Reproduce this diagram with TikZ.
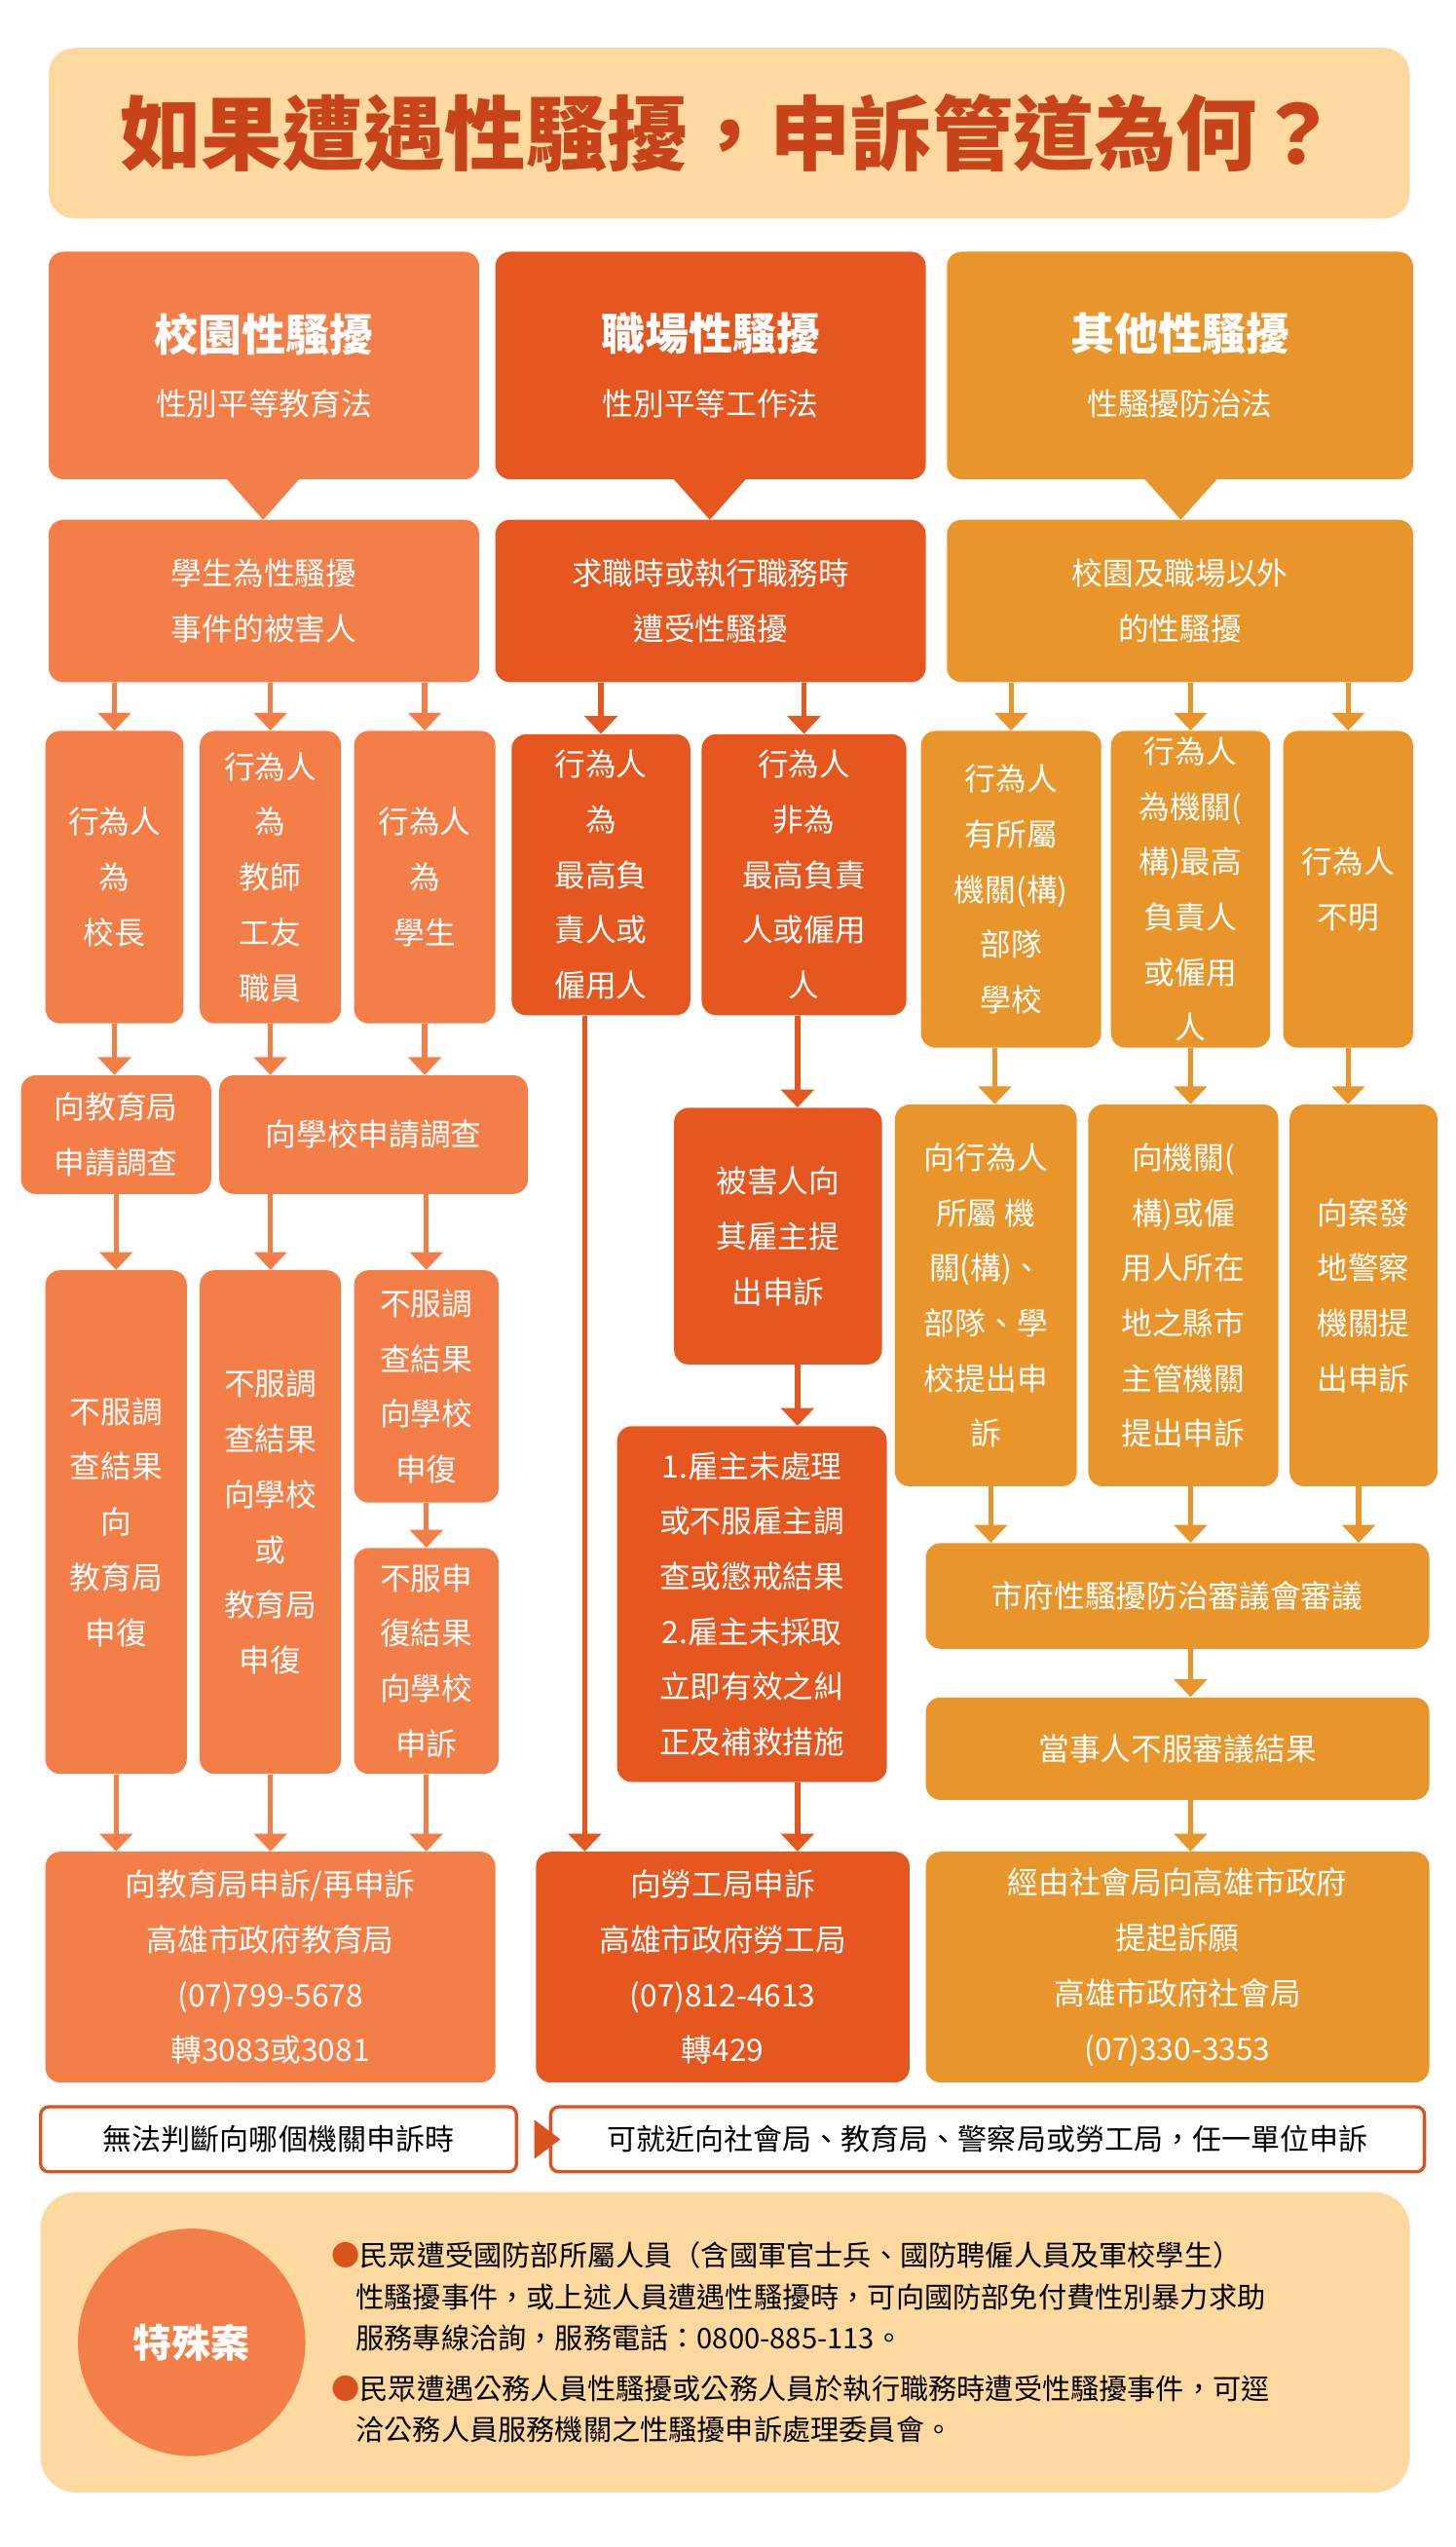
\documentclass[tikz,border=0pt]{standalone}
\usepackage{fontspec}
\setmainfont{Noto Sans CJK TC}
\usetikzlibrary{arrows.meta}
\definecolor{ca}{HTML}{F47E48}
\definecolor{cb}{HTML}{E5571F}
\definecolor{cc}{HTML}{E8962C}
\definecolor{peach}{HTML}{FDD9A0}
\definecolor{ttl}{HTML}{C9431A}
\definecolor{dk}{HTML}{D9531E}
\newcommand{\bx}[7]{\node[bx,fill=#6,minimum width={(#4-#2)*1pt},minimum height={(#5-#3)*1pt}] (#1) at ({(#2+#4)/2},{(#3+#5)/2}) {#7};}
\tikzset{bx/.style={rounded corners=9pt,inner sep=0pt,align=center,text=white,font=\fontsize{19}{34}\selectfont},
arr/.style={line width=3.2pt,-{Triangle[length=11pt,width=20pt]}}}
\begin{document}
\begin{tikzpicture}[x=1pt,y=-1pt]
\useasboundingbox (0,0) rectangle (896,1568);
\fill[white] (0,0) rectangle (896,1568);
% title
\node[bx,fill=peach,minimum width=838pt,minimum height=105pt,rounded corners=16pt,text=ttl,font=\fontsize{50}{54}\selectfont\bfseries] (title) at (449,82) {如果遭遇性騷擾，申訴管道為何？};
% headers
\fill[ca] (138,293)--(186,293)--(162,320)--cycle;
\fill[cb] (413,293)--(461,293)--(437,320)--cycle;
\fill[cc] (703,293)--(751,293)--(727,320)--cycle;
\bx{h1}{30}{155}{295}{295}{ca}{{\fontsize{27}{30}\selectfont\bfseries 校園性騷擾}\\[6pt]性別平等教育法}
\bx{h2}{305}{155}{570}{295}{cb}{{\fontsize{27}{30}\selectfont\bfseries 職場性騷擾}\\[6pt]性別平等工作法}
\bx{h3}{583}{155}{870}{295}{cc}{{\fontsize{27}{30}\selectfont\bfseries 其他性騷擾}\\[6pt]性騷擾防治法}
\bx{r1}{30}{320}{295}{420}{ca}{學生為性騷擾\\事件的被害人}
\bx{r2}{305}{320}{570}{420}{cb}{求職時或執行職務時\\遭受性騷擾}
\bx{r3}{583}{320}{870}{420}{cc}{校園及職場以外\\的性騷擾}
% row3
\bx{a1}{28}{450}{113}{630}{ca}{行為人\\為\\校長}
\bx{a2}{123}{450}{210}{630}{ca}{行為人\\為\\教師\\工友\\職員}
\bx{a3}{218}{450}{305}{630}{ca}{行為人\\為\\學生}
\bx{b1}{315}{452}{425}{625}{cb}{行為人\\為\\最高負\\責人或\\僱用人}
\bx{b2}{432}{452}{558}{625}{cb}{行為人\\非為\\最高負責\\人或僱用\\人}
\bx{c1}{567}{450}{678}{645}{cc}{行為人\\有所屬\\機關(構)\\部隊\\學校}
\bx{c2}{684}{450}{782}{645}{cc}{行為人\\為機關(\\構)最高\\負責人\\或僱用\\人}
\bx{c3}{790}{450}{870}{645}{cc}{行為人\\不明}
\foreach \s/\t/\c in {r1/a1/ca,r1/a2/ca,r1/a3/ca,r2/b1/cb,r2/b2/cb,r3/c1/cc,r3/c2/cc,r3/c3/cc}
  \draw[arr,draw=\c] (\s.south -| \t.north) -- (\t.north);
% row4
\bx{d1}{13}{662}{130}{735}{ca}{向教育局\\申請調查}
\bx{d2}{135}{662}{325}{735}{ca}{向學校申請調查}
\bx{e1}{415}{682}{543}{840}{cb}{被害人向\\其雇主提\\出申訴}
\bx{f1}{551}{680}{663}{915}{cc}{向行為人\\所屬 機\\關(構)、\\部隊、學\\校提出申\\訴}
\bx{f2}{670}{680}{787}{915}{cc}{向機關(\\構)或僱\\用人所在\\地之縣市\\主管機關\\提出申訴}
\bx{f3}{794}{680}{885}{915}{cc}{向案發\\地警察\\機關提\\出申訴}
% row5
\bx{g1}{28}{782}{115}{1092}{ca}{不服調\\查結果\\向\\教育局\\申復}
\bx{g2}{123}{782}{210}{1092}{ca}{不服調\\查結果\\向學校\\或\\教育局\\申復}
\bx{g3}{218}{782}{307}{925}{ca}{不服調\\查結果\\向學校\\申復}
\bx{g4}{218}{953}{307}{1092}{ca}{不服申\\復結果\\向學校\\申訴}
\bx{e2}{380}{878}{546}{1097}{cb}{1.雇主未處理\\或不服雇主調\\查或懲戒結果\\2.雇主未採取\\立即有效之糾\\正及補救措施}
\bx{k1}{570}{950}{880}{1015}{cc}{市府性騷擾防治審議會審議}
\bx{k2}{570}{1045}{880}{1108}{cc}{當事人不服審議結果}
% row6
\bx{z1}{28}{1140}{305}{1282}{ca}{向教育局申訴/再申訴\\高雄市政府教育局\\(07)799-5678\\轉3083或3081}
\bx{z2}{330}{1140}{560}{1282}{cb}{向勞工局申訴\\高雄市政府勞工局\\(07)812-4613\\轉429}
\bx{z3}{570}{1140}{880}{1282}{cc}{經由社會局向高雄市政府\\提起訴願\\高雄市政府社會局\\(07)330-3353}
% arrows col1
\draw[arr,ca] (a1.south) -- (a1.south |- d1.north);
\draw[arr,ca] (a2.south) -- (a2.south |- d2.north);
\draw[arr,ca] (a3.south) -- (a3.south |- d2.north);
\draw[arr,ca] (d1.south -| g1.north) -- (g1.north);
\draw[arr,ca] (d2.south -| g2.north) -- (g2.north);
\draw[arr,ca] (d2.south -| g3.north) -- (g3.north);
\draw[arr,ca] (g3.south) -- (g4.north);
\draw[arr,ca] (g1.south) -- (g1.south |- z1.north);
\draw[arr,ca] (g2.south) -- (g2.south |- z1.north);
\draw[arr,ca] (g4.south) -- (g4.south |- z1.north);
% col2
\draw[arr,cb] ([xshift=-10pt]b1.south) -- ([xshift=-10pt]b1.south |- z2.north);
\draw[arr,cb] ([xshift=-4pt]b2.south) -- ([xshift=-4pt]b2.south |- e1.north);
\draw[arr,cb] ([xshift=-4pt]b2.south |- e1.south) -- ([xshift=-4pt]b2.south |- e2.north);
\draw[arr,cb] ([xshift=-4pt]b2.south |- e2.south) -- ([xshift=-4pt]b2.south |- z2.north);
% col3
\draw[arr,cc] ([xshift=-10pt]c1.south) -- ([xshift=-10pt]c1.south |- f1.north);
\draw[arr,cc] (c2.south) -- (c2.south |- f2.north);
\draw[arr,cc] (c3.south) -- (c3.south |- f3.north);
\draw[arr,cc] ([xshift=3pt]f1.south) -- ([xshift=3pt]f1.south |- k1.north);
\draw[arr,cc] (f2.south -| c2.south) -- (c2.south |- k1.north);
\draw[arr,cc] ([xshift=-3pt]f3.south) -- ([xshift=-3pt]f3.south |- k1.north);
\draw[arr,cc] (k1.south -| c2.south) -- (c2.south |- k2.north);
\draw[arr,cc] (k2.south -| c2.south) -- (c2.south |- z3.north);
% row7
\node[draw=dk,line width=2pt,rounded corners=5pt,minimum width=293pt,minimum height=40pt,font=\fontsize{18}{20}\selectfont] (n1) at (171.5,1317) {無法判斷向哪個機關申訴時};
\node[draw=dk,line width=2pt,rounded corners=5pt,minimum width=538pt,minimum height=40pt,font=\fontsize{18}{20}\selectfont] (n2) at (608,1317) {可就近向社會局、教育局、警察局或勞工局，任一單位申訴};
\fill[dk] (n1.east) ++(10pt,-12pt) -- ++(16pt,12pt) -- ++(-16pt,12pt) -- cycle;
% bottom
\node[fill=peach,rounded corners=22pt,minimum width=843pt,minimum height=185pt] (pan) at (446.5,1442) {};
\node[circle,fill=ca,minimum size=140pt,text=white,font=\fontsize{24}{28}\selectfont\bfseries] (cir) at (118,1442) {特殊案};
\node[anchor=north west,align=left,font=\fontsize{17.5}{25.5}\selectfont,inner sep=0pt] (t1) at (204,1380)
{{\color{dk}●}民眾遭受國防部所屬人員（含國軍官士兵、國防聘僱人員及軍校學生）\\
\hspace{15pt}性騷擾事件，或上述人員遭遇性騷擾時，可向國防部免付費性別暴力求助\\
\hspace{15pt}服務專線洽詢，服務電話：0800-885-113。};
\node[anchor=north west,align=left,font=\fontsize{17.5}{25.5}\selectfont,inner sep=0pt] (t2) at (204,1462)
{{\color{dk}●}民眾遭遇公務人員性騷擾或公務人員於執行職務時遭受性騷擾事件，可逕\\
\hspace{15pt}洽公務人員服務機關之性騷擾申訴處理委員會。};
\end{tikzpicture}
\end{document}
